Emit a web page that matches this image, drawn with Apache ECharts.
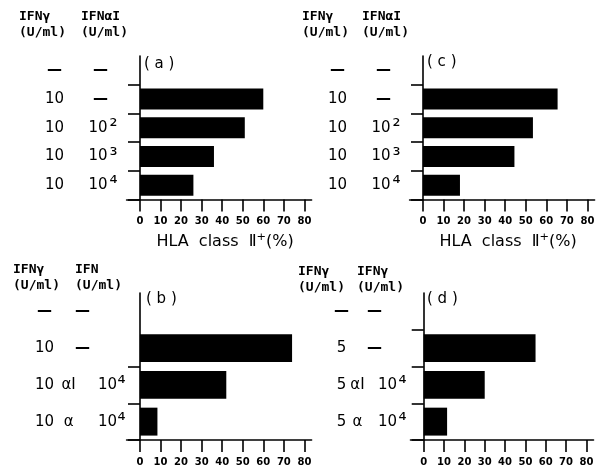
<!DOCTYPE html>
<html><head><meta charset="utf-8">
<script src="https://cdn.jsdelivr.net/npm/echarts@6/dist/echarts.min.js"></script>
<style>html,body{margin:0;padding:0;background:#fff}#c{width:603px;height:468px}</style>
</head><body><div id="c"></div>
<script>
// ---- data ----
const xTicks = [0, 10, 20, 30, 40, 50, 60, 70, 80];
// panel (a): IFN-gamma dose, IFN-alphaI dose (base, exponent), value
const aGamma = ['—', '10', '10', '10', '10'];
const aAlphaBase = ['—', '—', '10', '10', '10'];
const aAlphaExp = ['', '', '²', '³', '⁴'];
const aValues = [null, 60, 51, 36, 26];
// panel (c)
const cGamma = ['—', '10', '10', '10', '10'];
const cAlphaBase = ['—', '—', '10', '10', '10'];
const cAlphaExp = ['', '', '²', '³', '⁴'];
const cValues = [null, 65.5, 53.5, 44.5, 18];
// panel (b)
const bGamma = ['—', '10', '10', '10'];
const bType = ['—', '—', 'αI', 'α'];
const bDoseBase = ['', '', '10', '10'];
const bDoseExp = ['', '', '⁴', '⁴'];
const bValues = [null, 74, 42, 8.5];
// panel (d)
const dGamma = ['—', '5', '5', '5'];
const dType = ['—', '—', 'αI', 'α'];
const dDoseBase = ['', '', '10', '10'];
const dDoseExp = ['', '', '⁴', '⁴'];
const dValues = [null, 55, 30, 11.5];

// ---- chart ----
const FONT = 'DejaVu Sans';
const MONO = 'DejaVu Sans Mono';
const black = '#000';
const lineStyle = {color: black, width: 1.6};
const DASH = '—';

const grids = [
  {left: 126.6, width: 185, top: 56, height: 143.5},
  {left: 409.6, width: 185, top: 56, height: 143.5},
  {left: 126.6, width: 185, top: 293, height: 147},
  {left: 410.5, width: 183, top: 293, height: 147}
];

function xAxis(i, showName) {
  return {
    gridIndex: i, type: 'value', min: -6.5, max: 83.5,
    axisLine: {show: true, onZero: false, lineStyle},
    axisTick: {show: true, inside: false, length: 12, customValues: xTicks, lineStyle},
    axisLabel: {customValues: xTicks, margin: 17, fontSize: 10, fontWeight: 'bold', color: black, fontFamily: FONT},
    splitLine: {show: false},
    name: showName ? '{n|HLA  class  Ⅱ}{p|⁺}{n|(%)}' : '', nameLocation: 'middle', nameGap: 33,
    nameTextStyle: {
      padding: [0, 0, 0, 12],
      rich: {n: {fontSize: 16, color: black, fontFamily: FONT}, p: {fontSize: 18, color: black, fontFamily: FONT}}
    }
  };
}
const lab = {fontSize: 15, color: black, fontFamily: FONT, align: 'center'};
const tok = (w, extra) => Object.assign({}, lab, {width: w}, extra || {});
const gTok = (v) => (v === DASH ? 'gd' : 'g');

// panels a, c: slots (right to left): exponent 10, base 21, gamma 66; dash row: dash 36, gamma 56
function yAxisAC(i, gamma, base, exp) {
  return {
    gridIndex: i, type: 'category', inverse: true, data: gamma.map((g, k) => 'r' + k),
    axisLine: {show: true, onZero: true, lineStyle},
    axisTick: {show: true, length: 12, interval: (idx) => idx !== 0, lineStyle},
    axisLabel: {
      interval: 0, margin: 8,
      formatter: (v, idx) => exp[idx]
        ? `{${gTok(gamma[idx])}|${gamma[idx]}}{b|${base[idx]}}{e|${exp[idx]}}`
        : `{${gTok(gamma[idx])}2|${gamma[idx]}}{s|${base[idx]}}`,
      rich: {
        g: tok(66), gd: tok(66, {fontWeight: 'bold'}),
        g2: tok(56), gd2: tok(56, {fontWeight: 'bold'}),
        s: tok(36, {fontWeight: 'bold'}),
        b: tok(21),
        e: tok(10, {fontSize: 20})
      }
    }
  };
}
// panels b, d
function yAxisBD(i, gamma, type, base, exp, p) {
  return {
    gridIndex: i, type: 'category', inverse: true, data: gamma.map((g, k) => 'r' + k),
    axisLine: {show: true, onZero: true, lineStyle},
    axisTick: {show: true, length: 12, interval: (idx) => idx >= p.firstTick, lineStyle},
    axisLabel: {
      interval: 0, margin: 0,
      formatter: (v, idx) => exp[idx]
        ? `{${gTok(gamma[idx])}|${gamma[idx]}}{t|${type[idx]}}{sp| }{b|${base[idx]}}{e|${exp[idx]}}`
        : `{${gTok(gamma[idx])}|${gamma[idx]}}{dash|${type[idx]}}{blank| }`,
      rich: {
        g: tok(p.wg), gd: tok(p.wg, {fontWeight: 'bold'}),
        t: tok(p.wt), sp: tok(p.sp),
        b: tok(p.wb), e: tok(p.we, {fontSize: 20}),
        dash: tok(p.wdash, {fontWeight: 'bold'}),
        blank: tok(p.wt + p.sp + p.wb + p.we - p.wdash)
      }
    }
  };
}
function bar(i, data, gap) {
  return {type: 'bar', xAxisIndex: i, yAxisIndex: i, data, barCategoryGap: gap,
    itemStyle: {color: black}, silent: true};
}
const hdr = {fontFamily: MONO, fontWeight: 'bold', fontSize: 13, lineHeight: 16, color: black};
const pan = {fontFamily: FONT, fontWeight: 'normal', fontSize: 15, color: black};
function t(text, left, top, style) { return {text, left, top, padding: 0, textStyle: style}; }

const option = {
  animation: false,
  backgroundColor: '#fff',
  title: [
    t('IFNγ\n(U/ml)', 19, 9, hdr), t('IFNαI\n(U/ml)', 81, 9, hdr),
    t('IFNγ\n(U/ml)', 302, 9, hdr), t('IFNαI\n(U/ml)', 362, 9, hdr),
    t('IFNγ\n(U/ml)', 13, 262, hdr), t('IFN\n(U/ml)', 75, 262, hdr),
    t('IFNγ\n(U/ml)', 298, 264, hdr), t('IFNγ\n(U/ml)', 357, 264, hdr),
    t('( a )', 144, 57, pan), t('( c )', 427, 55, pan),
    t('( b )', 146, 292, pan), t('( d )', 427, 292, pan)
  ],
  grid: grids,
  xAxis: [xAxis(0, true), xAxis(1, true), xAxis(2, false), xAxis(3, false)],
  yAxis: [
    yAxisAC(0, aGamma, aAlphaBase, aAlphaExp),
    yAxisAC(1, cGamma, cAlphaBase, cAlphaExp),
    yAxisBD(2, bGamma, bType, bDoseBase, bDoseExp, {firstTick: 2, wg: 28, wt: 20, sp: 20, wb: 18, we: 10, wdash: 48}),
    yAxisBD(3, dGamma, dType, dDoseBase, dDoseExp, {firstTick: 1, wg: 12, wt: 20, sp: 13, wb: 14, we: 16, wdash: 54})
  ],
  series: [bar(0, aValues, '27%'), bar(1, cValues, '27%'), bar(2, bValues, '24%'), bar(3, dValues, '24%')]
};
const chart = echarts.init(document.getElementById('c'), null, {renderer: 'canvas'});
chart.setOption(option);
</script>
</body></html>
